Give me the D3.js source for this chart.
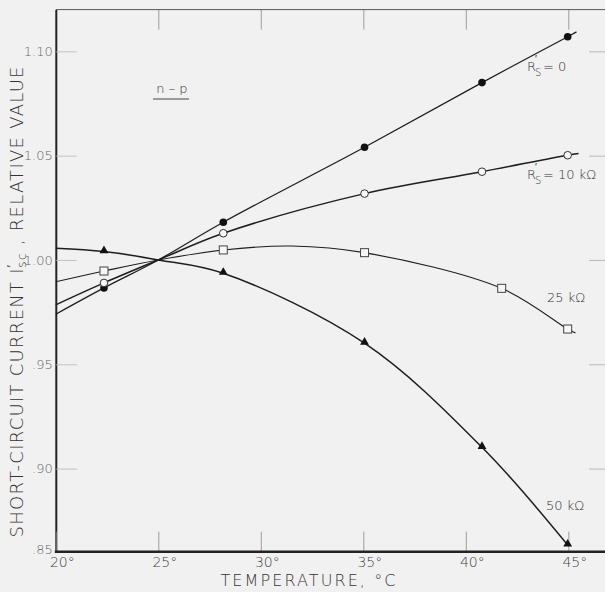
<!DOCTYPE html>
<html>
<head>
<meta charset="utf-8">
<script src="https://cdn.jsdelivr.net/npm/d3@7"></script>
<style>
  html, body { margin: 0; padding: 0; background: #f1f1f1; }
  svg { display: block; }
  text { font-family: "DejaVu Sans", "Liberation Sans", sans-serif; fill: #333; }
</style>
</head>
<body>
<div id="chart"></div>
<script>
// measured temperatures (deg C) and relative Isc values
const tempsMain = [22.35, 28.17, 35.06, 40.79, 44.97];
const tempsSquare = [22.35, 28.17, 35.06, 41.75, 44.97];

const rs0 = [0.9866, 1.0181, 1.0540, 1.0850, 1.1070];
const rs10k = [0.9890, 1.0128, 1.0318, 1.0423, 1.0502];
const rs25k = [0.9947, 1.0048, 1.0035, 0.9864, 0.9669];
const rs50k = [1.0040, 0.9936, 0.9601, 0.9102, 0.8540];

// faired curves as drawn (temp, value), incl. the 25 deg normalisation point
const curve0 = [[20, 0.9740], [22.35, 0.9866], [25, 1.0], [28.17, 1.0181], [35.06, 1.0540], [40.79, 1.0850], [44.97, 1.1070], [45.4, 1.1093]];
const curve10k = [[20, 0.9785], [22.35, 0.9890], [25, 1.0], [28.17, 1.0128], [35.06, 1.0318], [40.79, 1.0423], [44.97, 1.0502], [45.5, 1.0510]];
const curve25k = [[20, 0.9896], [22.35, 0.9947], [25, 1.0], [28.17, 1.0048], [31.5, 1.0067], [35.06, 1.0035], [41.75, 0.9864], [44.97, 0.9669], [45.35, 0.9650]];
const curve50k = [[20, 1.0056], [22.35, 1.0040], [25, 1.0], [28.17, 0.9936], [35.06, 0.9601], [40.79, 0.9102], [44.97, 0.8540]];

const xTicks = [20, 25, 30, 35, 40, 45];
const xTickLabels = ["20°", "25°", "30°", "35°", "40°", "45°"];
const yTicks = [0.85, 0.90, 0.95, 1.00, 1.05, 1.10];
const yTickLabels = [".85", ".90", ".95", "1.00", "1.05", "1.10"];

const W = 605, H = 592;
const svg = d3.select("#chart").append("svg").attr("width", W).attr("height", H);

const x = d3.scaleLinear().domain([20, 45]).range([55.8, 568.3]);
// bottom interval of the original grid is compressed
const y = d3.scaleLinear().domain([0.85, 0.90, 1.12]).range([551.7, 468.6, 9.6]);

const plotLeft = 55.8, plotBottom = 551.7, plotTop = 9.6, plotRight = 610;

// top and right axes (ticks only)
const gTop = svg.append("g").attr("transform", `translate(0,${plotTop})`)
  .call(d3.axisTop(x).tickValues(xTicks.slice(1)).tickSizeInner(-20).tickSizeOuter(0).tickFormat(""));
gTop.select(".domain").remove();
gTop.selectAll(".tick line").attr("stroke", "#888").attr("stroke-width", 0.8);
svg.append("line").attr("x1", plotLeft).attr("x2", W).attr("y1", plotTop).attr("y2", plotTop)
  .attr("stroke", "#555").attr("stroke-width", 1);

const gRight = svg.append("g").attr("transform", `translate(${plotRight},0)`)
  .call(d3.axisRight(y).tickValues(yTicks.slice(1)).tickSizeInner(-21).tickSizeOuter(0).tickFormat(""));
gRight.select(".domain").remove();
gRight.selectAll(".tick line").attr("stroke", "#aaa").attr("stroke-width", 0.8);

// left axis
const gLeft = svg.append("g").attr("transform", `translate(${plotLeft},0)`)
  .call(d3.axisLeft(y).tickValues(yTicks).tickSizeInner(-21).tickSizeOuter(0).tickPadding(3)
    .tickFormat((d, i) => yTickLabels[i]));
gLeft.select(".domain").attr("stroke", "#222").attr("stroke-width", 2);
gLeft.selectAll(".tick line").attr("stroke", "#b5b5b5").attr("stroke-width", 0.8);
gLeft.selectAll(".tick text").attr("font-size", 13).style("fill", "#666")
  .attr("font-family", "DejaVu Sans, sans-serif").style("font-weight", 200);
gLeft.selectAll(".tick").filter(d => d === 0.85).select("text").attr("dy", "0.1em");

// bottom axis
const gBottom = svg.append("g").attr("transform", `translate(0,${plotBottom})`)
  .call(d3.axisBottom(x).tickValues(xTicks).tickSizeInner(-20).tickSizeOuter(0).tickPadding(5)
    .tickFormat((d, i) => xTickLabels[i]));
gBottom.select(".domain").remove();
svg.append("line").attr("x1", plotLeft - 1).attr("x2", W).attr("y1", plotBottom).attr("y2", plotBottom)
  .attr("stroke", "#222").attr("stroke-width", 2.5);
gBottom.selectAll(".tick line").attr("stroke", "#888").attr("stroke-width", 0.8);
gBottom.selectAll(".tick text").attr("font-size", 14).style("fill", "#444").attr("dx", 6)
  .style("font-weight", 200);

// axis titles
svg.append("text")
  .attr("x", 308).attr("y", 586)
  .attr("text-anchor", "middle").attr("font-size", 16)
  .style("font-weight", 200)
  .attr("textLength", 175).attr("lengthAdjust", "spacing")
  .text("TEMPERATURE, °C");

const yt = svg.append("text")
  .attr("transform", "translate(22.5,302) rotate(-90)")
  .attr("text-anchor", "middle").attr("font-size", 18)
  .style("font-weight", 200)
  .attr("textLength", 471).attr("lengthAdjust", "spacing");
yt.append("tspan").text("SHORT-CIRCUIT CURRENT I");
yt.append("tspan").attr("font-size", 12).attr("dy", -7).text("′");
yt.append("tspan").attr("font-size", 12).attr("dy", 10).attr("dx", -4).text("sc");
yt.append("tspan").attr("dy", -3).text(" , RELATIVE VALUE");

// curves
const line = d3.line().x(d => x(d[0])).y(d => y(d[1])).curve(d3.curveCatmullRom.alpha(0.5));
const curves = [
  { pts: curve0, w: 1.3 },
  { pts: curve10k, w: 1.5 },
  { pts: curve25k, w: 1.1 },
  { pts: curve50k, w: 1.5 }
];
svg.selectAll("path.curve").data(curves).enter().append("path")
  .attr("class", "curve")
  .attr("d", d => line(d.pts))
  .attr("fill", "none").attr("stroke", "#1e1e1e").attr("stroke-width", d => d.w);

// markers
svg.selectAll("circle.f").data(rs0).enter().append("circle")
  .attr("cx", (d, i) => x(tempsMain[i])).attr("cy", d => y(d)).attr("r", 3.8)
  .attr("fill", "#111");
svg.selectAll("circle.o").data(rs10k).enter().append("circle")
  .attr("cx", (d, i) => x(tempsMain[i])).attr("cy", d => y(d)).attr("r", 3.8)
  .attr("fill", "#f7f7f7").attr("stroke", "#333").attr("stroke-width", 1);
svg.selectAll("rect.s").data(rs25k).enter().append("rect")
  .attr("x", (d, i) => x(tempsSquare[i]) - 4).attr("y", d => y(d) - 4)
  .attr("width", 8).attr("height", 8)
  .attr("fill", "#f7f7f7").attr("stroke", "#444").attr("stroke-width", 1);
const tri = d3.symbol().type(d3.symbolTriangle).size(34);
svg.selectAll("path.t").data(rs50k).enter().append("path")
  .attr("transform", (d, i) => `translate(${x(tempsMain[i])},${y(d) - 1})`)
  .attr("d", tri).attr("fill", "#111");

// annotations
function rsLabel(px, py, rest) {
  const g = svg.append("g").attr("transform", `translate(${px},${py})`)
    .style("font-weight", 200);
  g.append("text").attr("font-size", 13).text("R");
  g.append("text").attr("x", 8).attr("y", -8).attr("font-size", 10).text("′");
  g.append("text").attr("x", 8).attr("y", 5).attr("font-size", 10).text("S");
  g.append("text").attr("x", 16).attr("font-size", 13).text(rest);
}
rsLabel(527, 71, "= 0");
rsLabel(527, 179, "= 10 kΩ");

svg.append("text").attr("x", 547).attr("y", 302).attr("font-size", 13)
  .style("font-weight", 200).text("25 kΩ");
svg.append("text").attr("x", 546).attr("y", 510).attr("font-size", 13)
  .style("font-weight", 200).text("50 kΩ");

svg.append("text").attr("x", 172).attr("y", 93).attr("text-anchor", "middle")
  .attr("font-size", 13).style("font-weight", 200).text("n – p");
svg.append("line").attr("x1", 153).attr("x2", 189).attr("y1", 99).attr("y2", 99)
  .attr("stroke", "#444").attr("stroke-width", 1);
</script>
</body>
</html>
